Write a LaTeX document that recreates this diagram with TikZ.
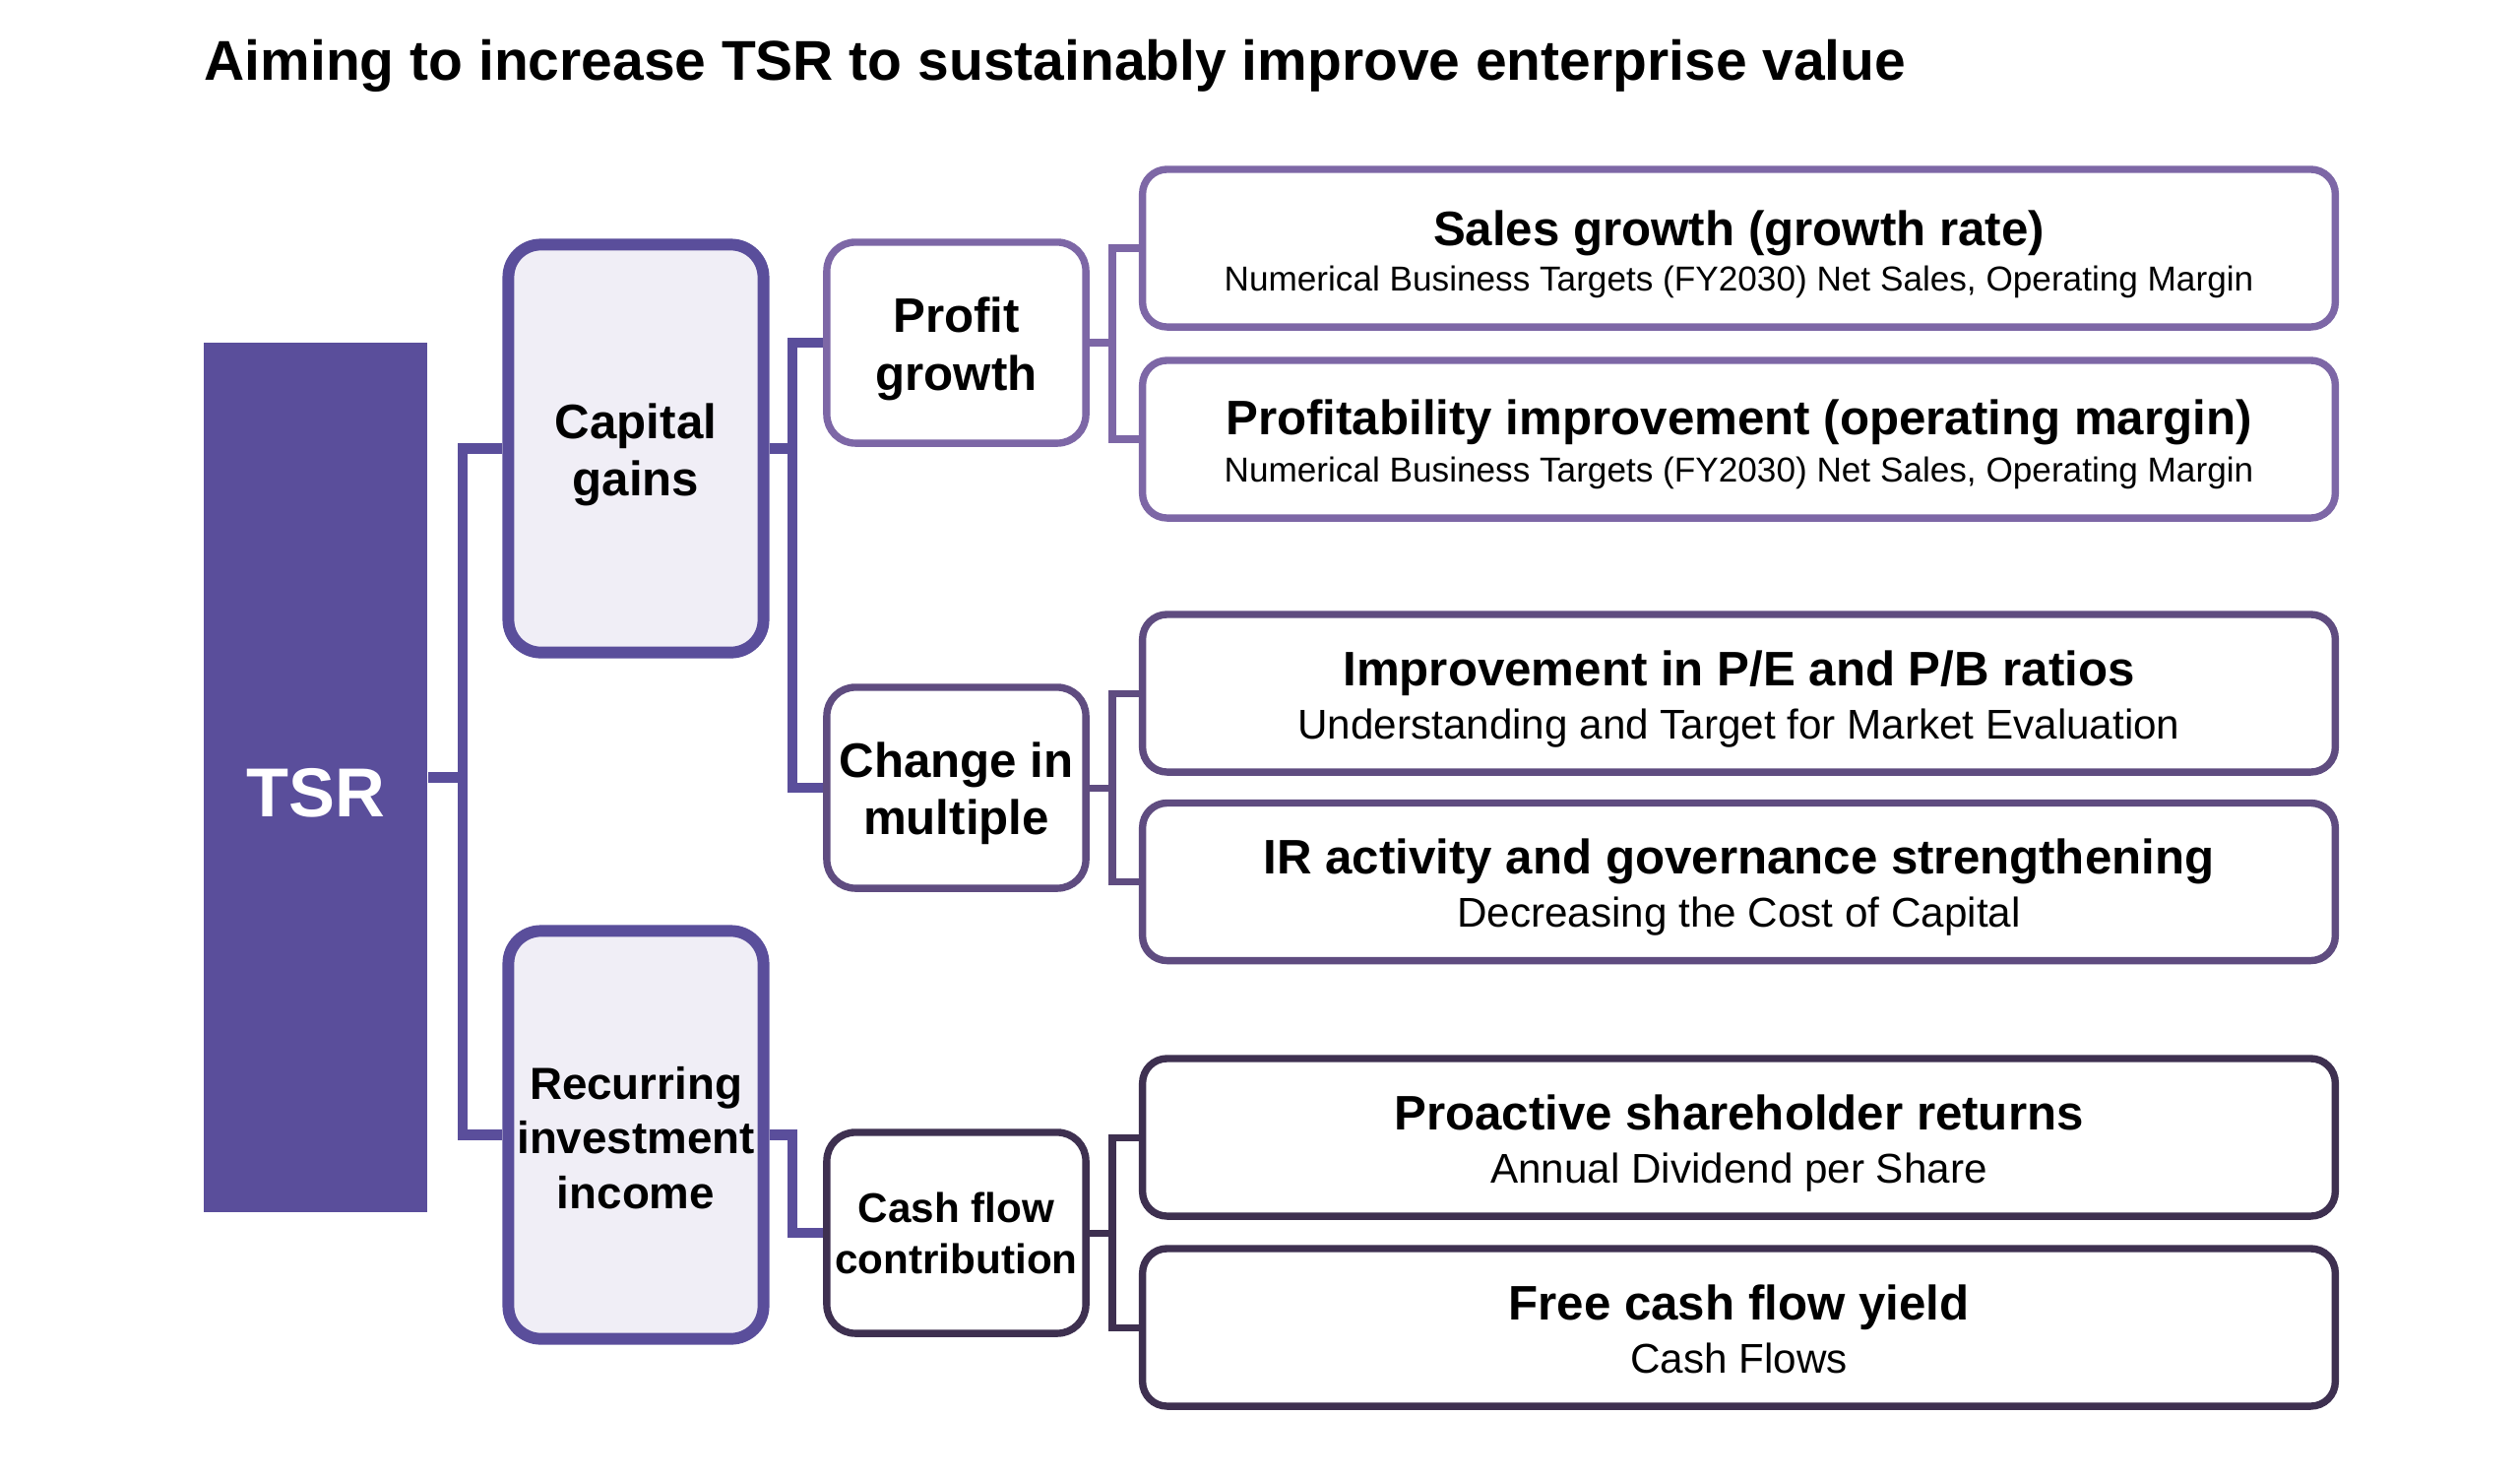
\documentclass[tikz,border=0pt]{standalone}
\usepackage{fontspec}
\setmainfont{Liberation Sans}
\usetikzlibrary{backgrounds}
\definecolor{cTSR}{HTML}{5A4E9B}
\definecolor{cFill}{HTML}{F0EEF6}
\definecolor{cA}{HTML}{7D67A6}
\definecolor{cB}{HTML}{5F4C80}
\definecolor{cC}{HTML}{3E3050}
\tikzset{
  lvlone/.style={draw=cTSR, line width=3.4pt, fill=cFill, rounded corners=0.33cm,
    minimum width=2.59cm, minimum height=4.14cm, inner sep=0pt},
  lvltwo/.style={line width=2.1pt, fill=white, rounded corners=0.29cm,
    minimum width=2.63cm, minimum height=2.04cm, inner sep=0pt},
  lvlthree/.style={line width=2.1pt, fill=white, rounded corners=0.25cm,
    minimum width=12.11cm, minimum height=1.60cm, inner sep=0pt},
  midtext/.style={align=center, inner sep=0pt, font=\fontsize{14}{16.6}\selectfont\bfseries},
  head/.style={anchor=base, inner sep=0pt, font=\fontsize{14}{16}\selectfont\bfseries},
  subsmall/.style={anchor=base, inner sep=0pt, font=\fontsize{10}{12}\selectfont},
  subbig/.style={anchor=base, inner sep=0pt, font=\fontsize{12}{14}\selectfont},
  connone/.style={draw=cTSR, line width=3pt},
  conntwo/.style={line width=2pt},
}
\begin{document}
\begin{tikzpicture}[x=0.01cm, y=-0.01cm]
\useasboundingbox (0,0) rectangle (2560,1502);

\node[anchor=base west, inner sep=0pt, font=\fontsize{16.2}{19}\selectfont\bfseries] (title) at (207,81)
  {Aiming to increase TSR to sustainably improve enterprise value};

% TSR
\node[fill=cTSR, minimum width=2.27cm, minimum height=8.83cm, inner sep=0pt] (tsr) at (320.5,789.5) {};
\node[inner sep=0pt, text=white, font=\fontsize{20}{24}\selectfont\bfseries] (tsrtxt)
  at ([yshift=-0.16cm]tsr.center) {TSR};

% level one
\node[lvlone] (cap) at (646,455.5) {};
\node[midtext] (captxt) at ([yshift=-0.065cm]cap.center) {Capital\\gains};
\node[lvlone] (rec) at (646,1152.5) {};
\node[midtext, font=\fontsize{13}{15.8}\selectfont\bfseries] (rectxt)
  at ([yshift=-0.03cm]rec.center) {Recurring\\investment\\income};

% level two
\node[lvltwo, draw=cA] (pg) at (971.5,348) {};
\node[midtext] (pgtxt) at ([yshift=-0.065cm]pg.center) {Profit\\growth};
\node[lvltwo, draw=cB] (cm) at (971.5,800) {};
\node[midtext] (cmtxt) at ([yshift=-0.06cm]cm.center) {Change in\\multiple};
\node[lvltwo, draw=cC] (cf) at (971.5,1252) {};
\node[midtext, font=\fontsize{12}{14.8}\selectfont\bfseries] (cftxt)
  at (cf.center) {Cash flow\\contribution};

% level three boxes
\node[lvlthree, draw=cA] (b1) at (1766.5,252) {};
\node[lvlthree, draw=cA] (b2) at (1766.5,446) {};
\node[lvlthree, draw=cB] (b3) at (1766.5,704) {};
\node[lvlthree, draw=cB] (b4) at (1766.5,895.5) {};
\node[lvlthree, draw=cC] (b5) at (1766.5,1155) {};
\node[lvlthree, draw=cC] (b6) at (1766.5,1348) {};

% texts in level three
\node[head] (h1) at ([yshift=0.03cm]b1.center) {Sales growth (growth rate)};
\node[subsmall] (s1) at ([yshift=-0.43cm]b1.center) {Numerical Business Targets (FY2030) Net Sales, Operating Margin};
\node[head] (h2) at ([yshift=0.05cm]b2.center) {Profitability improvement (operating margin)};
\node[subsmall] (s2) at ([yshift=-0.43cm]b2.center) {Numerical Business Targets (FY2030) Net Sales, Operating Margin};
\node[head] (h3) at ([yshift=0.08cm]b3.center) {Improvement in P/E and P/B ratios};
\node[subbig] (s3) at ([yshift=-0.46cm]b3.center) {Understanding and Target for Market Evaluation};
\node[head] (h4) at ([yshift=0.08cm]b4.center) {IR activity and governance strengthening};
\node[subbig] (s4) at ([yshift=-0.46cm]b4.center) {Decreasing the Cost of Capital};
\node[head] (h5) at ([yshift=0.08cm]b5.center) {Proactive shareholder returns};
\node[subbig] (s5) at ([yshift=-0.46cm]b5.center) {Annual Dividend per Share};
\node[head] (h6) at ([yshift=0.08cm]b6.center) {Free cash flow yield};
\node[subbig] (s6) at ([yshift=-0.46cm]b6.center) {Cash Flows};

% junction coordinates
\coordinate (j0) at (470,789.5);
\coordinate (j1) at (805,455.5);
\coordinate (j2) at (805,1152.5);
\coordinate (k1) at (1130,348);
\coordinate (k2) at (1130,800);
\coordinate (k3) at (1130,1252);

\begin{scope}[on background layer]
\draw[connone] (tsr.east) -- (j0);
\draw[connone] (cap.west) -| (j0) |- (rec.west);
\draw[connone] (cap.east) -- (j1);
\draw[connone] (pg.west) -| (j1) |- (cm.west);
\draw[connone] (rec.east) -- (j2) |- (cf.west);
\draw[conntwo, draw=cA] (pg.east) -- (k1);
\draw[conntwo, draw=cA] (b1.west) -| (k1) |- (b2.west);
\draw[conntwo, draw=cB] (cm.east) -- (k2);
\draw[conntwo, draw=cB] (b3.west) -| (k2) |- (b4.west);
\draw[conntwo, draw=cC] (cf.east) -- (k3);
\draw[conntwo, draw=cC] (b5.west) -| (k3) |- (b6.west);
\end{scope}
\end{tikzpicture}
\end{document}
